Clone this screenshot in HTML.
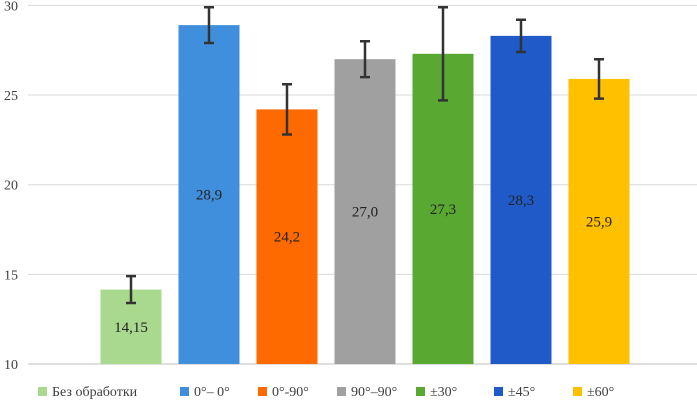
<!DOCTYPE html>
<html><head><meta charset="utf-8"><style>
body{margin:0;background:#fff;}
svg{display:block;}
text{font-family:"Liberation Serif","DejaVu Serif",serif;}
</style></head><body>
<svg id="chart" width="697" height="404"></svg>
<script>
const categories=["Без обработки","0°– 0°","0°-90°","90°–90°","±30°","±45°","±60°"];
const values=[14.15,28.9,24.2,27.0,27.3,28.3,25.9];
const errors=[0.75,1.0,1.4,1.0,2.6,0.9,1.1];
const labels=["14,15","28,9","24,2","27,0","27,3","28,3","25,9"];
const colors=["#a9d98e","#3f8fdc","#ff6a00","#a0a0a0","#58a832","#1f5ac8","#ffc000"];
const ticks=[10,15,20,25,30];
const NS="http://www.w3.org/2000/svg";
const FF='"Liberation Serif", "DejaVu Serif", serif';
const svg=document.getElementById('chart');
const y=v=>364-(v-10)*17.93;
const xc=i=>131+i*78;
const bw=61;
function mk(t,a,p){const e=document.createElementNS(NS,t);for(const k in a)e.setAttribute(k,a[k]);if(t==='text')e.setAttribute('font-family',FF);(p||svg).appendChild(e);return e;}
ticks.forEach(t=>{
  const g=mk('line',{x1:28,x2:697,y1:y(t),y2:y(t),stroke:t===10?'#bfbfbf':'#d9d9d9','stroke-width':1});
  
  
  const l=mk('text',{x:18,y:y(t)+5,'text-anchor':'end','font-size':14,fill:'#404040'});
  l.textContent=t;
  
  
});
values.forEach((v,i)=>{
  const r=mk('rect',{x:xc(i)-bw/2,y:y(v),width:bw,height:y(10)-y(v),fill:colors[i]});
  
  
  const e=errors[i];
  const eb=mk('path',{d:`M${xc(i)},${y(v+e)}V${y(v-e)}M${xc(i)-5},${y(v+e)}H${xc(i)+5}M${xc(i)-5},${y(v-e)}H${xc(i)+5}`,stroke:'#333',
    'stroke-width':2.5,fill:'none'});
  
  
  const t=mk('text',{x:xc(i),y:(y(v)+y(10))/2+5,'text-anchor':'middle','font-size':15,fill:'#222'});
  t.textContent=labels[i];
  
  
});
const lx=[38,180,258,337,416,494,573];
categories.forEach((c,i)=>{
  const s=mk('rect',{x:lx[i],y:387,width:9,height:9,fill:colors[i]});
  
  
  const t=mk('text',{x:lx[i]+14,y:396,'font-size':14,fill:'#404040'});
  t.textContent=c;
  
  
});
</script>
</body></html>
